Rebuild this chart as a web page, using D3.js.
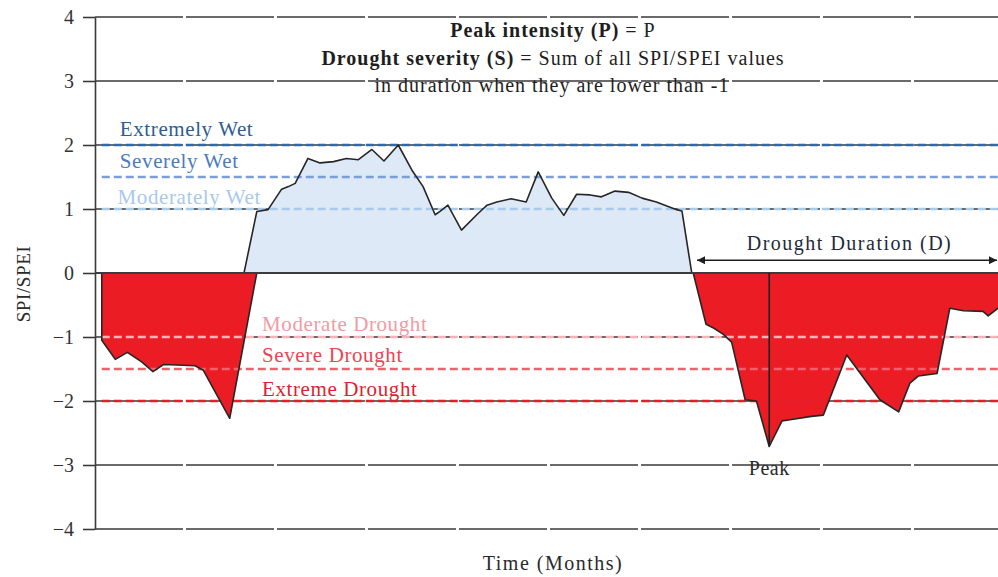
<!DOCTYPE html>
<html>
<head>
<meta charset="utf-8">
<script src="https://cdn.jsdelivr.net/npm/d3@7"></script>
<style>
  html, body { margin: 0; padding: 0; background: #fff; }
  svg { display: block; }
  text { font-family: "Liberation Serif", "DejaVu Serif", serif; }
</style>
</head>
<body>
<svg id="chart" width="998" height="577"></svg>
<script>
// Index values (SPI/SPEI) against time in months
const yTicks = [4, 3, 2, 1, 0, -1, -2, -3, -4];

// First dry spell
const drought1Months = [0.9, 0.9, 2.7, 4.3, 6.2, 7.7, 9.1, 13.3, 14.4, 17.9, 21.5];
const drought1Values = [0, -1.05, -1.35, -1.24, -1.39, -1.54, -1.43, -1.45, -1.52, -2.27, 0];

// Wet spell
const wetMonths = [19.8, 21.5, 23.0, 24.8, 25.7, 26.6, 28.3, 29.9, 31.7, 33.4, 35.0, 36.8, 38.4, 40.3,
  42.1, 43.6, 45.2, 45.8, 46.9, 48.7, 50.9, 52.1, 53.4, 55.3, 57.3, 58.9, 60.7, 62.3, 64.0, 65.8,
  67.3, 69.1, 70.9, 72.7, 74.6, 77.3, 78.0, 79.3];
const wetValues = [0, 0.96, 0.99, 1.31, 1.35, 1.40, 1.79, 1.72, 1.74, 1.79, 1.77, 1.93, 1.75, 2.0,
  1.61, 1.35, 0.91, 0.96, 1.06, 0.67, 0.93, 1.06, 1.11, 1.16, 1.11, 1.58, 1.17, 0.90, 1.23, 1.22,
  1.19, 1.28, 1.26, 1.17, 1.11, 0.99, 0.97, 0];

// Second dry spell (the drought event being characterised)
const drought2Months = [79.5, 81.2, 82.2, 83.5, 84.6, 86.4, 87.9, 89.6, 91.3, 93.0, 95.2, 96.8, 99.9,
  104.3, 106.8, 108.3, 109.4, 111.9, 113.6, 115.4, 118.0, 118.7, 120];
const drought2Values = [0, -0.80, -0.86, -0.96, -1.08, -1.98, -2.0, -2.71, -2.31, -2.28, -2.24, -2.22, -1.28,
  -1.98, -2.17, -1.72, -1.61, -1.57, -0.55, -0.59, -0.60, -0.67, -0.55];

// Category thresholds
const levelValues = [2, 1.5, 1, -1, -1.5, -2];
const levelNames = ["Extremely Wet", "Severely Wet", "Moderately Wet",
  "Moderate Drought", "Severe Drought", "Extreme Drought"];
const levelLineColors = ["#2f69a6", "#7c9ed8", "#a9cbeb", "#f6b3b8", "#f3606d", "#e41e2b"];
const levelTextColors = ["#2d5d92", "#4a7cc0", "#a9c9ea", "#f39aa2", "#ec4453", "#e01f2e"];

const svg = d3.select("#chart");
const x = d3.scaleLinear().domain([0, 120]).range([95, 998]);
const y = d3.scaleLinear().domain([-4, 4]).range([529, 17]);

const zip = (ms, vs) => ms.map((m, i) => ({ m, v: vs[i] }));
const drought1 = zip(drought1Months, drought1Values);
const wet = zip(wetMonths, wetValues);
const drought2 = zip(drought2Months, drought2Values);

// Grid lines at every tick
svg.append("g").selectAll("line").data(yTicks).join("line")
  .attr("x1", x(0)).attr("x2", x(120))
  .attr("y1", d => y(d)).attr("y2", d => y(d))
  .attr("stroke", "#3a3a3a").attr("stroke-width", 1.6)
  .attr("stroke-dasharray", "88,3");

// Y axis
const yAxis = svg.append("g").attr("transform", `translate(${x(0)},0)`)
  .call(d3.axisLeft(y).tickValues(yTicks).tickSizeInner(12).tickSizeOuter(0).tickPadding(9)
    .tickFormat(d => d < 0 ? "\u2212" + Math.abs(d) : String(d)));
yAxis.select(".domain").attr("stroke", "#3a3a3a").attr("stroke-width", 1.6);
yAxis.selectAll(".tick line").attr("stroke", "#3a3a3a").attr("stroke-width", 1.6);
yAxis.selectAll(".tick text").attr("font-family", "Liberation Serif").attr("font-size", 20)
  .attr("fill", "#333");

const area = d3.area().x(d => x(d.m)).y0(y(0)).y1(d => y(d.v));
const line = d3.line().x(d => x(d.m)).y(d => y(d.v));

// Filled spells
svg.append("path").datum(wet).attr("d", area).attr("fill", "#dde9f6");
svg.append("path").datum(drought1).attr("d", area).attr("fill", "#ec1c24");
svg.append("path").datum(drought2).attr("d", area).attr("fill", "#ec1c24");

// Threshold lines
svg.append("g").selectAll("line").data(levelValues).join("line")
  .attr("x1", x(0.9)).attr("x2", x(120))
  .attr("y1", d => y(d)).attr("y2", d => y(d))
  .attr("stroke", (d, i) => levelLineColors[i]).attr("stroke-width", 2.6)
  .attr("stroke-dasharray", "8,4");

// Outlines of the index curve
[drought1, wet, drought2].forEach(s => {
  svg.append("path").datum(s).attr("d", line)
    .attr("fill", "none").attr("stroke", "#262626").attr("stroke-width", 1.6)
    .attr("stroke-linejoin", "round");
});

// Zero baseline
svg.append("line").attr("x1", x(0)).attr("x2", x(120)).attr("y1", y(0)).attr("y2", y(0))
  .attr("stroke", "#3c3c3c").attr("stroke-width", 2);

// Threshold labels, sitting just above their lines
const labelMonth = [3.3, 3.3, 3.0, 22.2, 22.2, 22.2];
const labelLift = [9, 9, 5, 6, 7, 5];
svg.append("g").selectAll("text").data(levelValues).join("text")
  .attr("x", (d, i) => x(labelMonth[i]))
  .attr("y", (d, i) => y(d) - labelLift[i])
  .attr("font-size", 21).attr("letter-spacing", 0.6)
  .attr("fill", (d, i) => levelTextColors[i])
  .text((d, i) => levelNames[i]);

// Peak marker
const peak = drought2.reduce((a, b) => (b.v < a.v ? b : a));
svg.append("line").attr("x1", x(peak.m)).attr("x2", x(peak.m))
  .attr("y1", y(0)).attr("y2", y(peak.v))
  .attr("stroke", "#1e1e1e").attr("stroke-width", 1.6);
svg.append("text").attr("x", x(peak.m)).attr("y", y(peak.v) + 29)
  .attr("text-anchor", "middle").attr("font-size", 20).attr("letter-spacing", 0.5)
  .attr("fill", "#2a2a2a").text("Peak");

// Drought duration arrow
const defs = svg.append("defs");
defs.append("marker").attr("id", "arrow").attr("viewBox", "0 0 10 10")
  .attr("refX", 10).attr("refY", 5).attr("markerWidth", 8).attr("markerHeight", 8)
  .attr("markerUnits", "userSpaceOnUse").attr("orient", "auto-start-reverse")
  .append("path").attr("d", "M0,0 L10,5 L0,10 Z").attr("fill", "#1e1e1e");
const dStart = drought2[0].m + 0.5, dEnd = 120;
svg.append("line").attr("x1", x(dStart)).attr("x2", x(dEnd) - 1)
  .attr("y1", y(0.2)).attr("y2", y(0.2))
  .attr("stroke", "#1e1e1e").attr("stroke-width", 1.6)
  .attr("marker-start", "url(#arrow)").attr("marker-end", "url(#arrow)");
svg.append("text").attr("x", (x(dStart) + x(dEnd)) / 2 + 2).attr("y", 250)
  .attr("text-anchor", "middle").attr("font-size", 20).attr("letter-spacing", 1.5)
  .attr("fill", "#1f2a3a").text("Drought Duration (D)");

// Definitions block
const note = svg.append("g").attr("font-size", 20).attr("letter-spacing", 1)
  .attr("fill", "#1e1e1e").attr("text-anchor", "middle");
const l1 = note.append("text").attr("x", 553).attr("y", 37);
l1.append("tspan").attr("font-weight", "bold").text("Peak intensity (P)");
l1.append("tspan").text(" = P");
const l2 = note.append("text").attr("x", 553).attr("y", 65);
l2.append("tspan").attr("font-weight", "bold").text("Drought severity (S)");
l2.append("tspan").text(" = Sum of all SPI/SPEI values");
note.append("text").attr("x", 552).attr("y", 92).text("in duration when they are lower than -1");

// Axis titles
svg.append("text").attr("transform", "translate(30,284) rotate(-90)")
  .attr("text-anchor", "middle").attr("font-size", 19).attr("letter-spacing", 0.6)
  .attr("fill", "#2a2a2a").text("SPI/SPEI");
svg.append("text").attr("x", 553).attr("y", 570).attr("text-anchor", "middle")
  .attr("font-size", 20).attr("letter-spacing", 1.5)
  .attr("fill", "#2a2a2a").text("Time (Months)");
</script>
</body>
</html>
